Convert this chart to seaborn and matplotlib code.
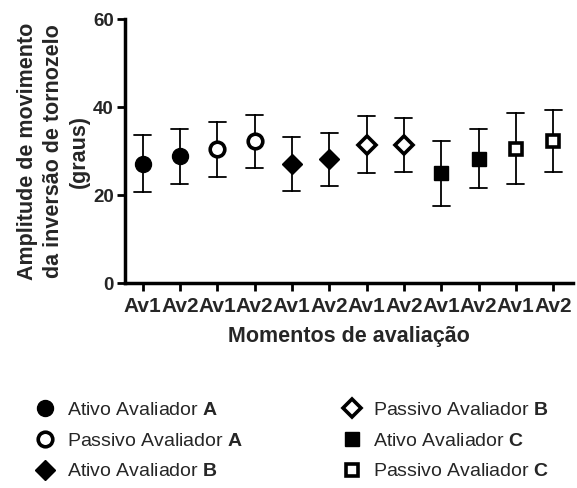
import numpy as np
import pandas as pd
import matplotlib
matplotlib.use("Agg")
import matplotlib.pyplot as plt
import seaborn as sns
from matplotlib.lines import Line2D

# ---- data ----
groups = ["Ativo Avaliador A", "Passivo Avaliador A", "Ativo Avaliador B",
          "Passivo Avaliador B", "Ativo Avaliador C", "Passivo Avaliador C"]
legend_labels = ["Ativo Avaliador $\\mathbf{A}$", "Passivo Avaliador $\\mathbf{A}$",
                 "Ativo Avaliador $\\mathbf{B}$", "Passivo Avaliador $\\mathbf{B}$",
                 "Ativo Avaliador $\\mathbf{C}$", "Passivo Avaliador $\\mathbf{C}$"]
moments = ["Av1", "Av2"] * 6
means = [27.1, 28.8, 30.4, 32.2, 27.1, 28.2, 31.4, 31.4, 25.0, 28.3, 30.4, 32.3]
lower = [20.6, 22.6, 24.2, 26.1, 21.0, 22.1, 24.9, 25.3, 17.6, 21.5, 22.4, 25.3]
upper = [33.7, 34.9, 36.7, 38.3, 33.3, 34.2, 37.9, 37.4, 32.2, 35.0, 38.6, 39.4]
markers = ["o", "o", "D", "D", "s", "s"]
filled = [True, False, True, False, True, False]

rows = []
for i in range(len(means)):
    for v in (lower[i], means[i], upper[i]):
        rows.append({"pos": i, "val": v, "group": groups[i // 2]})
df = pd.DataFrame(rows)

sns.set_style("ticks")
plt.rcParams["font.family"] = ["Liberation Sans", "DejaVu Sans"]
plt.rcParams["mathtext.fontset"] = "custom"
plt.rcParams["mathtext.rm"] = "Liberation Sans"
plt.rcParams["mathtext.bf"] = "Liberation Sans:bold"

fig = plt.figure(figsize=(5.77, 4.88), dpi=100)
ax = fig.add_axes([0.2166, 0.42, 0.993 - 0.2166, 0.961 - 0.42])

msizes = {"o": 11.5, "D": 10.5, "s": 10}
def mew(mk, fill):
    return 1.0 if fill else 2.6

for name, mk, fill in zip(groups, markers, filled):
    sub = df[df["group"] == name]
    n0 = len(ax.lines)
    sns.pointplot(data=sub, x="pos", y="val", native_scale=True,
                  estimator="median", errorbar=lambda v: (v.min(), v.max()),
                  marker=mk, linestyle="none", color="black", capsize=0.45,
                  err_kws={"linewidth": 1.3}, markersize=msizes[mk] - (1 if not fill else 0),
                  markeredgewidth=mew(mk, fill), ax=ax)
    for ln in ax.lines[n0:]:
        if ln.get_marker() == mk:
            ln.set_zorder(5)
            if not fill:
                ln.set_markerfacecolor("white")
        else:
            ln.set_zorder(3)

ax.set_xlim(-0.47, 11.53)
ax.set_ylim(0, 60)
ax.set_xticks(range(len(moments)))
ax.set_xticklabels(moments, fontsize=15, fontweight="bold")
ax.set_yticks([0, 20, 40, 60])
ax.set_yticklabels(["0", "20", "40", "60"], fontsize=13.5, fontweight="bold")
ax.tick_params(axis="both", width=2, length=6, color="black", pad=2)
ax.tick_params(axis="x", pad=4)
for s in ["left", "bottom"]:
    ax.spines[s].set_linewidth(2.5)
    ax.spines[s].set_color("black")
sns.despine(ax=ax)
ax.set_xlabel("Momentos de avaliação", fontsize=15.5, fontweight="bold", labelpad=7)
ax.set_ylabel("Amplitude de movimento\nda inversão de tornozelo\n(graus)",
              fontsize=15.5, fontweight="bold", linespacing=1.3)
ax.yaxis.set_label_coords(-0.078, 0.5)

handles = []
for mk, fill in zip(markers, filled):
    handles.append(Line2D([], [], marker=mk, linestyle="none", color="black",
                          markersize=msizes[mk] - (1 if not fill else 0),
                          markerfacecolor="black" if fill else "white",
                          markeredgewidth=mew(mk, fill)))
fig.legend(handles, legend_labels, loc="upper left", bbox_to_anchor=(0.045, 0.197),
           ncol=2, frameon=False, fontsize=14, handlelength=1.0,
           handletextpad=0.6, columnspacing=5.1, labelspacing=0.67, borderpad=0)

fig.savefig("out.png", dpi=100)
